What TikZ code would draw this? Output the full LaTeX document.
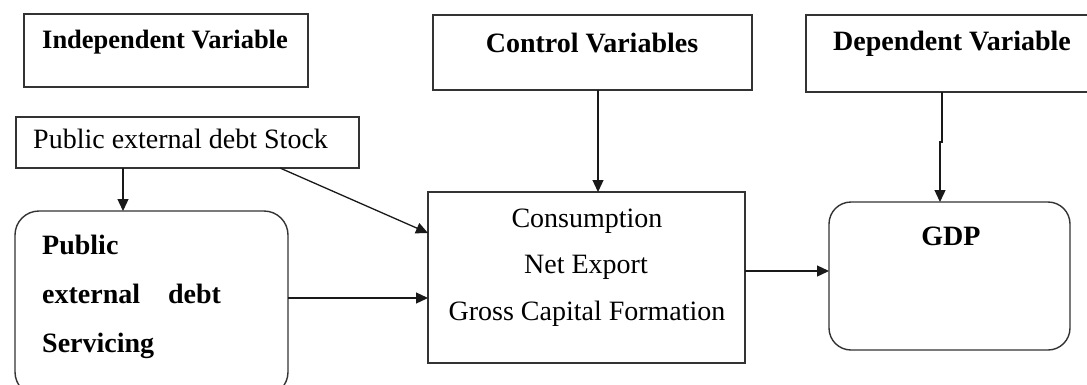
\documentclass[tikz,border=0pt]{standalone}
\usepackage{fontspec}
\setmainfont{Liberation Serif}
\usetikzlibrary{arrows.meta}
\begin{document}
\begin{tikzpicture}[x=1pt,y=-1pt,
  box/.style={draw=black!80,line width=1.4pt,rectangle,inner sep=0pt,outer sep=0pt,anchor=north west},
  rbox/.style={box,rounded corners=24pt},
  txt/.style={inner sep=0pt,font=\fontsize{28}{34}\selectfont},
  arr/.style={draw=black!90,line width=1.3pt,-{Triangle[length=12pt,width=11pt]}}]
\useasboundingbox (0,0) rectangle (1087,384);
\clip (0,0) rectangle (1087,384);

% boxes
\node[box,minimum width=284pt,minimum height=73pt] (indep) at (24,14) {};
\node[box,minimum width=343pt,minimum height=51pt] (stock) at (16,117) {};
\node[rbox,minimum width=273pt,minimum height=185pt] (serv) at (15,211) {};
\node[box,minimum width=319pt,minimum height=75pt] (ctrl) at (433,15) {};
\node[box,minimum width=317pt,minimum height=171pt] (mid) at (428,192) {};
\node[box,minimum width=300pt,minimum height=77pt] (dep) at (806,15) {};
\node[rbox,rounded corners=22pt,minimum width=241pt,minimum height=148pt] (gdp) at (829,202) {};

% labels
\node[txt,anchor=base west,font=\fontsize{26.5}{32}\selectfont] (tIndep) at (42,48) {\textbf{Independent Variable}};
\node[txt,anchor=base west] (tStock) at (33,148) {Public external debt Stock};
\node[txt,anchor=base west] (tServ1) at (42,254) {\textbf{Public}};
\node[txt,anchor=base west] (tServ2) at (42,303) {\textbf{external}\hspace{28pt}\textbf{debt}};
\node[txt,anchor=base west] (tServ3) at (42,352) {\textbf{Servicing}};
\node[txt,anchor=base] (tCtrl) at (592,52) {\textbf{Control Variables}};
\node[txt,anchor=base] (tCons) at (587,227) {Consumption};
\node[txt,anchor=base] (tNet) at (586,273) {Net Export};
\node[txt,anchor=base] (tGross) at (587,320) {Gross Capital Formation};
\node[txt,anchor=base] (tDep) at (952,50) {\textbf{Dependent Variable}};
\node[txt,anchor=base] (tGdp) at (951,245) {\textbf{GDP}};

% connectors
\coordinate (c1) at (123,0);
\draw[arr] (c1 |- stock.south) -- (c1 |- serv.north);
\coordinate (c2) at (280,0);
\coordinate (c3) at (0,233);
\draw[arr] (c2 |- stock.south) -- (c3 -| mid.west);
\coordinate (c4) at (0,298);
\draw[arr] (c4 -| serv.east) -- (c4 -| mid.west);
\coordinate (c5) at (598,0);
\draw[arr] (c5 |- ctrl.south) -- (c5 |- mid.north);
\coordinate (c6) at (0,271);
\draw[arr] (c6 -| mid.east) -- (c6 -| gdp.west);
\coordinate (c7) at (942,142);
\coordinate (c8) at (940,142);
\draw[arr] (c7 |- dep.south) -- (c7) -- (c8) -- (c8 |- gdp.north);
\end{tikzpicture}
\end{document}
